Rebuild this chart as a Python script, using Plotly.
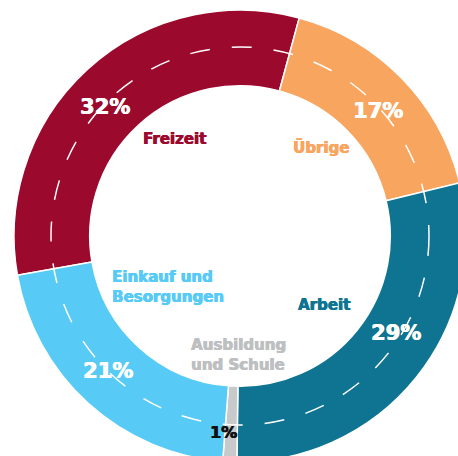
import plotly.graph_objects as go

# Shares of trips by purpose (percent)
categories = ["Freizeit", "Übrige", "Arbeit", "Ausbildung und Schule", "Einkauf und Besorgungen"]
shares = [32, 17, 29, 1, 21]
label_lines = ["Freizeit", "Übrige", "Arbeit", "Ausbildung<br>und Schule", "Einkauf und<br>Besorgungen"]

slice_colors = ["#9b0a2d", "#f8a55f", "#0e7492", "#c7c9cb", "#57cbf5"]
label_colors = ["#9b0a2d", "#f8a55f", "#0e7492", "#bdbfc1", "#57cbf5"]
pct_colors = ["#ffffff", "#ffffff", "#ffffff", "#111111", "#ffffff"]

W, H = 470, 470
CX, CY, R_OUT, R_DASH = 240, 236, 226, 189


def heavy(color):
    # thicken the glyphs slightly with a same-coloured offset shadow
    return f"0.6px 0 0 {color}, -0.3px 0 0 {color}"


fig = go.Figure()
fig.add_trace(go.Pie(
    labels=categories,
    values=shares,
    sort=False,
    direction="clockwise",
    rotation=-100,
    hole=0.665,
    marker=dict(colors=slice_colors, line=dict(color="white", width=1.5)),
    textinfo="none",
    hoverinfo="label+percent",
    showlegend=False,
    domain=dict(x=[(CX - R_OUT) / W, (CX + R_OUT) / W],
                y=[(H - CY - R_OUT) / H, (H - CY + R_OUT) / H]),
))

# dashed centre line of the ring
fig.add_shape(type="circle", xref="x", yref="y",
              x0=CX - R_DASH, x1=CX + R_DASH, y0=CY - R_DASH, y1=CY + R_DASH,
              line=dict(color="white", width=1.5, dash="20px,22px"), layer="above")

pct_pos = [(105, 107), (378, 111), (396, 333), (223, 432), (108, 371)]
name_pos = [(174, 139, "center"), (321, 147, "center"), (324, 305, "center"),
            (189, 355, "left"), (110, 287, "left")]

for i, v in enumerate(shares):
    px, py = pct_pos[i]
    fig.add_annotation(x=px, y=py, xref="x", yref="y", text=f"{v}%", showarrow=False,
                       xanchor="center", yanchor="middle",
                       font=dict(family="DejaVu Sans", size=21 if v > 1 else 16,
                                 weight="bold", color=pct_colors[i],
                                 shadow=heavy(pct_colors[i])))
    nx, ny, anchor = name_pos[i]
    fig.add_annotation(x=nx, y=ny, xref="x", yref="y", text=label_lines[i], showarrow=False,
                       xanchor=anchor, yanchor="middle", align="left",
                       font=dict(family="DejaVu Sans", size=15, weight="bold",
                                 color=label_colors[i], shadow=heavy(label_colors[i])))

fig.update_layout(
    width=W, height=H,
    margin=dict(l=0, r=0, t=0, b=0),
    paper_bgcolor="white", plot_bgcolor="white",
    xaxis=dict(range=[0, W], visible=False, fixedrange=True),
    yaxis=dict(range=[H, 0], visible=False, fixedrange=True),
)

fig.write_html("out.html",
               post_script="document.documentElement.style.overflow='hidden';"
                           "document.body.style.margin='0';document.body.style.overflow='hidden';")
